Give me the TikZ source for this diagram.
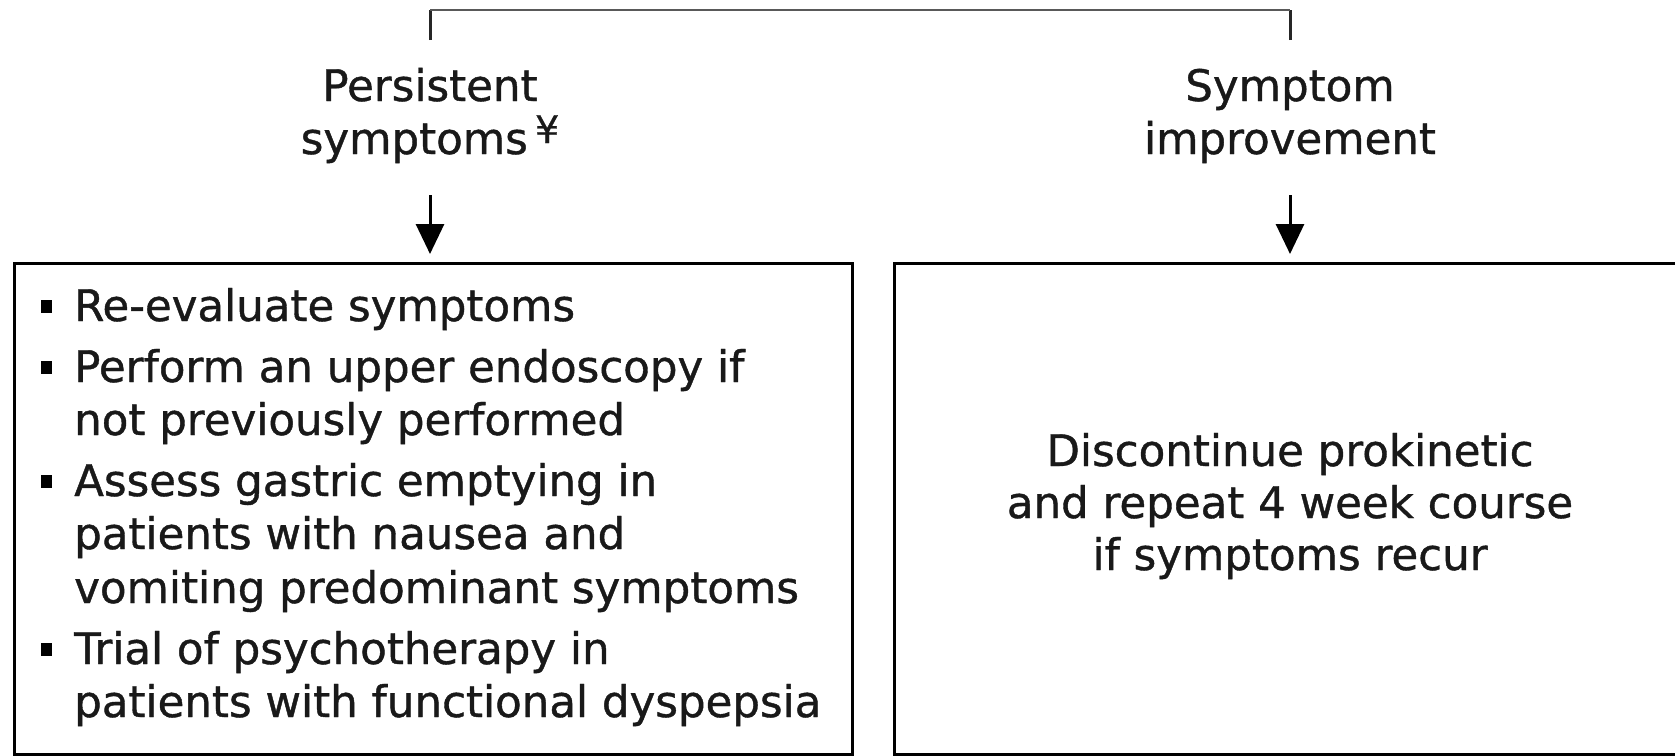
\documentclass[tikz,border=0pt]{standalone}
\usepackage{fontspec}
\setmainfont{DejaVu Sans}[BoldFont={DejaVu Sans}, BoldFeatures={FakeBold=0.9}]
\usetikzlibrary{arrows.meta}
\definecolor{ink}{RGB}{25,25,25}
\begin{document}
\begin{tikzpicture}[x=1pt,y=-1pt,
  txt/.style={font=\fontsize{43.5}{53.4}\selectfont\bfseries, text=ink, inner sep=0pt},
  boxst/.style={draw=black, line width=3pt, inner sep=0pt},
  arr/.style={draw=black, line width=3pt, -{Triangle[width=28pt,length=30pt]}, shorten >=8pt},
  bul/.style={fill=black, minimum width=11pt, minimum height=13pt, inner sep=0pt},
  vline/.style={draw=black!85, line width=3pt},
  hline/.style={draw=black!65, line width=2pt}]
\useasboundingbox (0,0) rectangle (1675,755);
% bracket
\coordinate (bl) at (430,40);
\coordinate (br) at (1290,40);
\draw[vline] (bl) -- ++(0,-30) coordinate (tl);
\draw[vline] (br) -- ++(0,-30) coordinate (tr);
\draw[hline] (tl) -- (tr);
% labels
\node[txt, anchor=base] (p1) at (430,101) {Persistent};
\node[txt, anchor=base] (p2) at (430,154) {symptoms\,\raisebox{11pt}{\fontsize{38}{38}\selectfont ¥}};
\node[txt, anchor=base] (s1) at (1290,101) {Symptom};
\node[txt, anchor=base] (s2) at (1290,154) {improvement};
% boxes
\node[boxst, anchor=north west, minimum width=838pt, minimum height=491pt] (lbox) at (13,262) {};
\node[boxst, anchor=north west, minimum width=800pt, minimum height=491pt] (rbox) at (893,262) {};
% arrows
\coordinate (a1) at (430,195);
\coordinate (a2) at (1290,195);
\draw[arr] (a1) -- (a1 |- lbox.north);
\draw[arr] (a2) -- (a2 |- rbox.north);
% left box content
\node[bul] (b1) at (46,306) {};
\node[bul] (b2) at (46,367) {};
\node[bul] (b3) at (46,481) {};
\node[bul] (b4) at (46,649) {};
\node[txt, anchor=base west] (l1) at (74,321) {Re-evaluate symptoms};
\node[txt, anchor=base west] (l2) at (74,382) {Perform an upper endoscopy if};
\node[txt, anchor=base west] (l3) at (74,435) {not previously performed};
\node[txt, anchor=base west] (l4) at (74,496) {Assess gastric emptying in};
\node[txt, anchor=base west] (l5) at (74,549) {patients with nausea and};
\node[txt, anchor=base west] (l6) at (74,603) {vomiting predominant symptoms};
\node[txt, anchor=base west] (l7) at (74,664) {Trial of psychotherapy in};
\node[txt, anchor=base west] (l8) at (74,717) {patients with functional dyspepsia};
% right box content
\node[txt, anchor=base] (r1) at (1290,466) {Discontinue prokinetic};
\node[txt, anchor=base] (r2) at (1290,518) {and repeat 4 week course};
\node[txt, anchor=base] (r3) at (1290,570) {if symptoms recur};
\end{tikzpicture}
\end{document}
